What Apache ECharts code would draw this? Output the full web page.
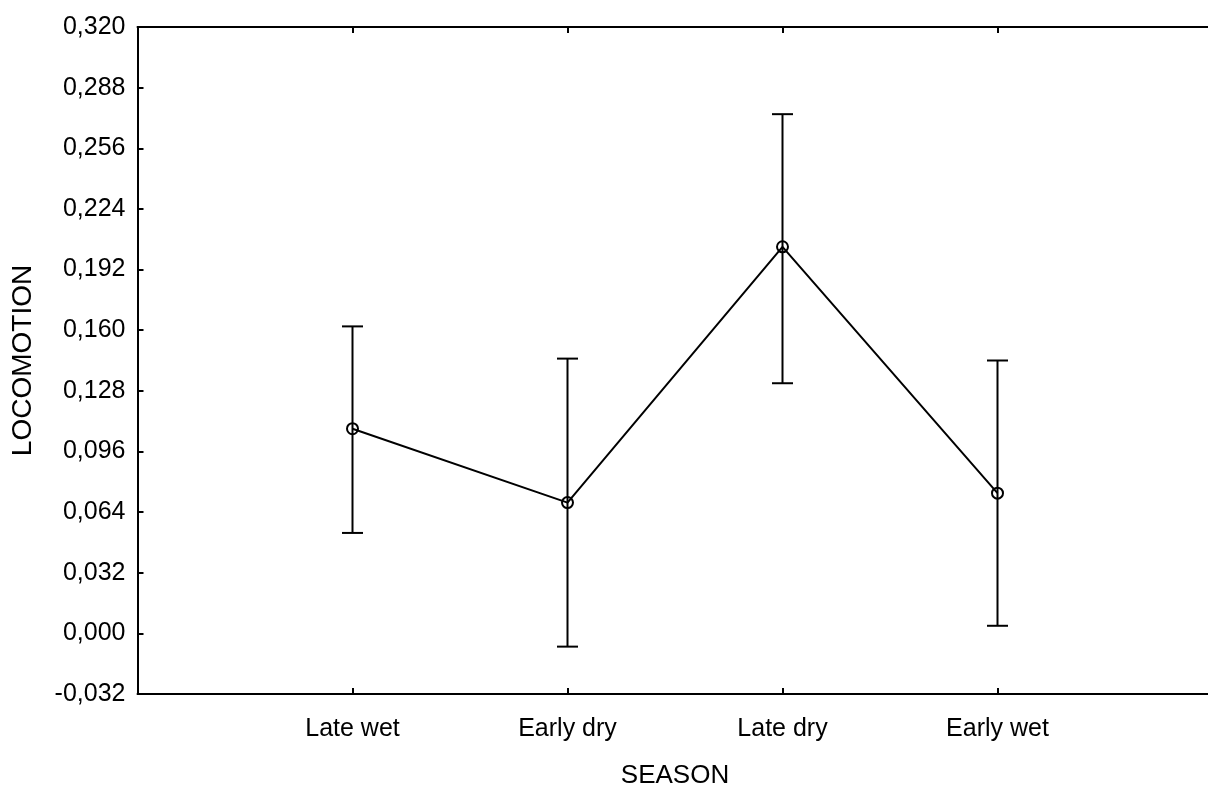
<!DOCTYPE html>
<html>
<head>
<meta charset="utf-8">
<script src="https://cdn.jsdelivr.net/npm/echarts@6/dist/echarts.min.js"></script>
<style>
  html, body { margin: 0; padding: 0; background: #fff; }
  #chart { width: 1208px; height: 792px; }
</style>
</head>
<body>
<div id="chart"></div>
<script>
// Season means of locomotion with their confidence limits
const categories = ['Late wet', 'Early dry', 'Late dry', 'Early wet'];
const means = [0.108, 0.069, 0.204, 0.074];
const upper = [0.162, 0.145, 0.274, 0.144];
const lower = [0.053, -0.007, 0.132, 0.004];

const yMin = -0.032, yMax = 0.320, yStep = 0.032;

const FONT = '"Liberation Sans", Arial, sans-serif';
const fmtY = v => v.toFixed(3).replace('.', ',');
// categories sit at positions 1..n on a value axis running 0..n+1
const pos = categories.map((_, i) => i + 1);

const chart = echarts.init(document.getElementById('chart'), null, { renderer: 'canvas' });

const axisCommon = {
  type: 'value',
  min: 0,
  max: categories.length + 1,
  interval: 1,
  splitLine: { show: false },
  axisLine: { onZero: false, lineStyle: { color: '#000', width: 2 } },
  axisTick: {
    inside: true, length: 6,
    lineStyle: { color: '#000', width: 2 },
    customValues: pos
  }
};

chart.setOption({
  animation: false,
  backgroundColor: '#fff',
  grid: {
    left: 137.5, right: -4.5, top: 27, bottom: 98,
    containLabel: false, outerBoundsMode: 'none'
  },
  xAxis: [
    Object.assign({}, axisCommon, {
      position: 'bottom',
      name: 'SEASON',
      nameLocation: 'middle',
      nameGap: 69,
      nameTextStyle: { fontFamily: FONT, fontSize: 26, color: '#000' },
      axisLabel: {
        fontFamily: FONT, fontSize: 25, color: '#000', margin: 23,
        customValues: pos,
        formatter: v => categories[Math.round(v) - 1] || ''
      }
    }),
    Object.assign({}, axisCommon, {
      position: 'top',
      axisLabel: { show: false }
    })
  ],
  yAxis: {
    type: 'value',
    min: yMin,
    max: yMax,
    interval: yStep,
    name: 'LOCOMOTION',
    nameLocation: 'middle',
    nameGap: 100,
    nameTextStyle: { fontFamily: FONT, fontSize: 28, color: '#000' },
    splitLine: { show: false },
    axisLine: { show: true, onZero: false, lineStyle: { color: '#000', width: 2 } },
    axisTick: { inside: true, length: 6, lineStyle: { color: '#000', width: 2 } },
    axisLabel: { fontFamily: FONT, fontSize: 25, color: '#000', margin: 12, formatter: fmtY }
  },
  series: [
    {
      type: 'custom',
      name: 'limits',
      z: 3,
      data: pos.map((p, i) => [p, lower[i], upper[i]]),
      renderItem: (params, api) => {
        const x = api.value(0);
        const lo = api.coord([x, api.value(1)]);
        const hi = api.coord([x, api.value(2)]);
        const half = 10.5;
        const style = { stroke: '#000', lineWidth: 2 };
        return {
          type: 'group',
          children: [
            { type: 'line', shape: { x1: lo[0], y1: lo[1], x2: hi[0], y2: hi[1] }, style },
            { type: 'line', shape: { x1: hi[0] - half, y1: hi[1], x2: hi[0] + half, y2: hi[1] }, style },
            { type: 'line', shape: { x1: lo[0] - half, y1: lo[1], x2: lo[0] + half, y2: lo[1] }, style }
          ]
        };
      }
    },
    {
      type: 'line',
      name: 'mean',
      z: 4,
      data: pos.map((p, i) => [p, means[i]]),
      symbol: 'circle',
      symbolSize: 11,
      showSymbol: true,
      lineStyle: { color: '#000', width: 2 },
      itemStyle: { color: 'rgba(0,0,0,0)', borderColor: '#000', borderWidth: 2 }
    }
  ]
});
</script>
</body>
</html>
